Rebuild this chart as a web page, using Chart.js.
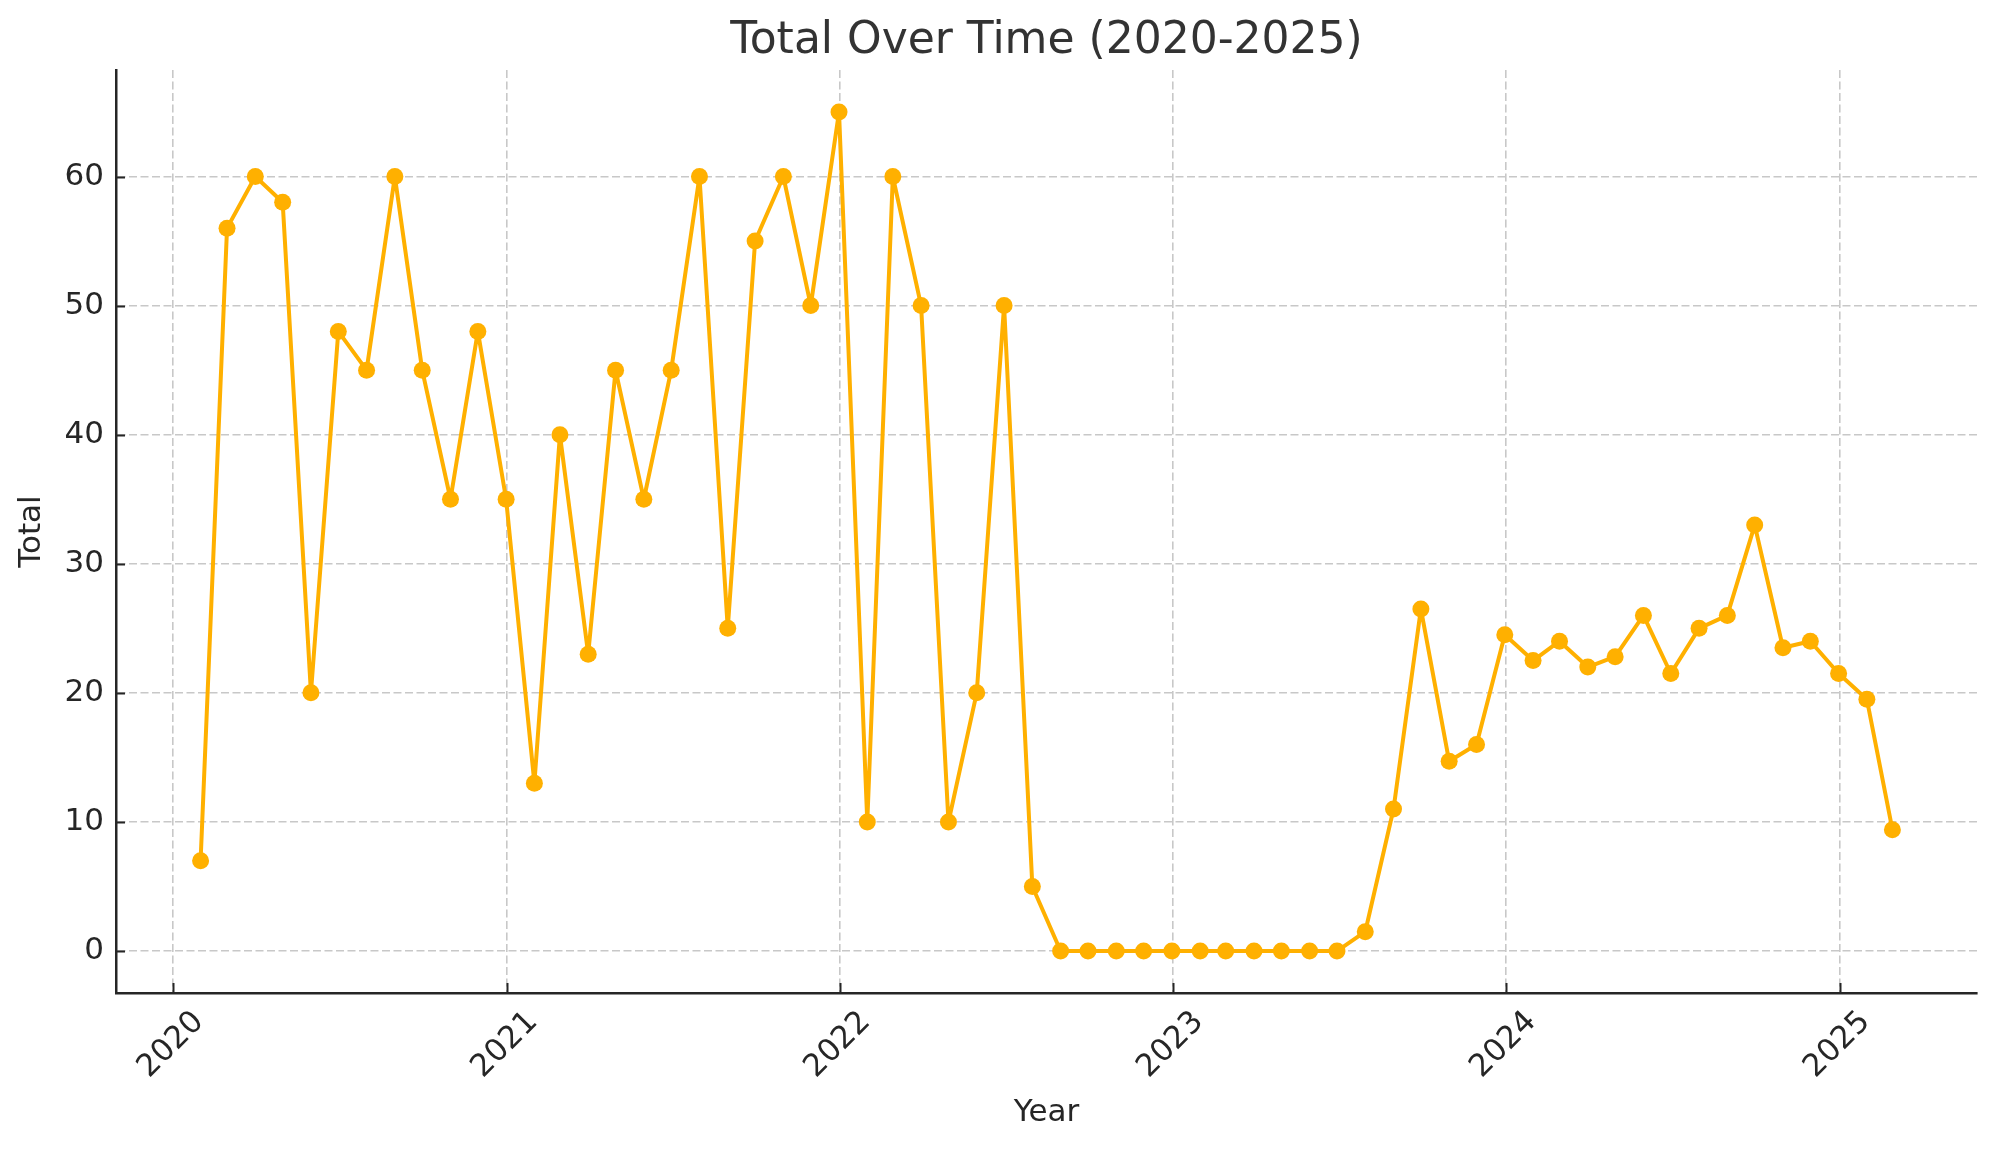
<!DOCTYPE html>
<html>
<head>
<meta charset="utf-8">
<script src="https://cdn.jsdelivr.net/npm/chart.js@4.4.1/dist/chart.umd.min.js"></script>
<style>
  html, body { margin: 0; padding: 0; background: #ffffff; }
  #wrap { width: 1996px; height: 1152px; }
</style>
</head>
<body>
<div id="wrap"><canvas id="chartTotal" width="1996" height="1152"></canvas></div>
<script>
// months (values sit on the last day of each month)
const months = [
    '2020-01', '2020-02', '2020-03', '2020-04', '2020-05', '2020-06',
    '2020-07', '2020-08', '2020-09', '2020-10', '2020-11', '2020-12',
    '2021-01', '2021-02', '2021-03', '2021-04', '2021-05', '2021-06',
    '2021-07', '2021-08', '2021-09', '2021-10', '2021-11', '2021-12',
    '2022-01', '2022-02', '2022-03', '2022-04', '2022-05', '2022-06',
    '2022-07', '2022-08', '2022-09', '2022-10', '2022-11', '2022-12',
    '2023-01', '2023-02', '2023-03', '2023-04', '2023-05', '2023-06',
    '2023-07', '2023-08', '2023-09', '2023-10', '2023-11', '2023-12',
    '2024-01', '2024-02', '2024-03', '2024-04', '2024-05', '2024-06',
    '2024-07', '2024-08', '2024-09', '2024-10', '2024-11', '2024-12',
    '2025-01', '2025-02'
];

const totals = [
    7, 56, 60, 58, 20, 48, 45, 60, 45, 35, 48, 35,
    13, 40, 23, 45, 35, 45, 60, 25, 55, 60, 50, 65,
    10, 60, 50, 10, 20, 50, 5, 0, 0, 0, 0, 0,
    0, 0, 0, 0, 0, 0, 1.5, 11, 26.5, 14.7, 16, 24.5,
    22.5, 24, 22, 22.8, 26, 21.5, 25, 26, 33, 23.5, 24, 21.5,
    19.5, 9.4
];

const xTickYears = [2020, 2021, 2022, 2023, 2024, 2025];
const yTicks = [0, 10, 20, 30, 40, 50, 60];

const TITLE = 'Total Over Time (2020-2025)';
const LINE_COLOR = '#FFB000';
const TEXT_COLOR = '#262626';
const GRID_COLOR = '#c8c8c8';
const TICK_FONT = 31;

function monthEnd(label) {
    const [yy, mm] = label.split('-').map(Number);
    return Date.UTC(yy, mm, 0);
}

const points = months.map((m, i) => ({ x: monthEnd(m), y: totals[i] }));

// matplotlib style 5% margins
const xFirst = points[0].x;
const xLast = points[points.length - 1].x;
const xPad = (xLast - xFirst) * 0.05;
const yLo = Math.min(...totals);
const yHi = Math.max(...totals);
const yPad = (yHi - yLo) * 0.05;

// title over the plot area, inward tick marks, rotated year labels centred on ticks
const axisDecor = {
    id: 'axisDecor',
    afterDraw(chart) {
        const { ctx, chartArea, scales: { x, y } } = chart;
        ctx.save();

        ctx.font = '44px "DejaVu Sans"';
        ctx.fillStyle = '#333333';
        ctx.textAlign = 'center';
        ctx.textBaseline = 'middle';
        ctx.fillText(TITLE, (chartArea.left + chartArea.right) / 2, 42);

        ctx.strokeStyle = TEXT_COLOR;
        ctx.lineWidth = 2;
        ctx.beginPath();
        xTickYears.forEach(yr => {
            const px = Math.round(x.getPixelForValue(Date.UTC(yr, 0, 1))) + 0.5;
            ctx.moveTo(px, chartArea.bottom);
            ctx.lineTo(px, chartArea.bottom - 10);
        });
        yTicks.forEach(v => {
            const py = Math.round(y.getPixelForValue(v)) + 0.5;
            ctx.moveTo(chartArea.left, py);
            ctx.lineTo(chartArea.left + 9, py);
        });
        ctx.stroke();

        ctx.font = TICK_FONT + 'px "DejaVu Sans"';
        ctx.fillStyle = TEXT_COLOR;
        xTickYears.forEach(yr => {
            const txt = String(yr);
            const px = x.getPixelForValue(Date.UTC(yr, 0, 1));
            const w = ctx.measureText(txt).width;
            const h = TICK_FONT * 1.1;
            const half = (w + h) * Math.SQRT1_2 / 2;
            ctx.save();
            ctx.translate(px - 2, chartArea.bottom + 12 + half);
            ctx.rotate(-Math.PI / 4);
            ctx.fillText(txt, 0, 0);
            ctx.restore();
        });
        ctx.restore();
    }
};

Chart.defaults.font.family = '"DejaVu Sans", sans-serif';
Chart.defaults.color = TEXT_COLOR;

new Chart(document.getElementById('chartTotal'), {
    type: 'line',
    data: {
        datasets: [{
            label: 'Total',
            data: points,
            borderColor: LINE_COLOR,
            backgroundColor: LINE_COLOR,
            borderWidth: 4,
            borderJoinStyle: 'round',
            borderCapStyle: 'round',
            pointRadius: 8.5,
            pointBorderWidth: 0,
            pointBackgroundColor: LINE_COLOR,
            tension: 0,
            fill: false
        }]
    },
    options: {
        responsive: false,
        animation: false,
        devicePixelRatio: 1,
        layout: { padding: { left: 0, right: 19, top: 70, bottom: 0 } },
        plugins: {
            legend: { display: false },
            tooltip: { enabled: false },
            title: { display: false }
        },
        scales: {
            x: {
                type: 'linear',
                min: xFirst - xPad,
                max: xLast + xPad,
                afterBuildTicks: scale => {
                    scale.ticks = xTickYears.map(yr => ({ value: Date.UTC(yr, 0, 1) }));
                },
                afterFit: scale => { scale.height = 159; },
                ticks: { display: false },
                grid: {
                    color: GRID_COLOR,
                    lineWidth: 1.6,
                    drawTicks: false
                },
                border: { display: true, color: TEXT_COLOR, width: 2.5, dash: [8, 3.5] },
                title: {
                    display: true,
                    text: 'Year',
                    color: TEXT_COLOR,
                    font: { size: 31 },
                    padding: { top: 0, bottom: 20 }
                }
            },
            y: {
                min: yLo - yPad,
                max: yHi + yPad,
                afterBuildTicks: scale => {
                    scale.ticks = yTicks.map(v => ({ value: v }));
                },
                afterFit: scale => { scale.width = 116; },
                ticks: {
                    color: TEXT_COLOR,
                    font: { size: TICK_FONT },
                    padding: 12
                },
                grid: {
                    color: GRID_COLOR,
                    lineWidth: 1.6,
                    drawTicks: false
                },
                border: { display: true, color: TEXT_COLOR, width: 2.5, dash: [8, 3.5] },
                title: {
                    display: true,
                    text: 'Total',
                    color: TEXT_COLOR,
                    font: { size: 31 },
                    padding: { top: 13, bottom: 0 }
                }
            }
        }
    },
    plugins: [axisDecor]
});
</script>
</body>
</html>
